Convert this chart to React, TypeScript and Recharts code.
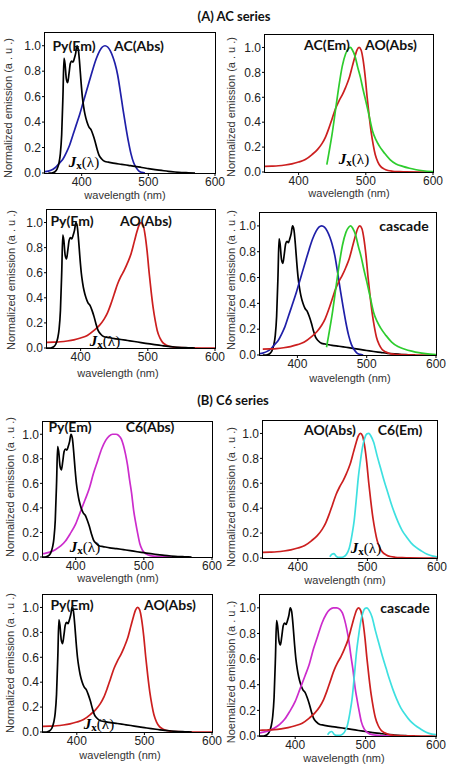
import React from 'react';
import { Line, LineChart, XAxis, YAxis } from 'recharts';

// Py emission
const pyWl = [350, 355, 360, 363, 366, 368, 370, 372, 373.5, 375, 377, 379, 381, 383, 385, 387, 389, 391, 393, 395, 397, 399, 401, 403, 405, 408, 411, 414, 417, 420, 423, 426, 430, 435, 440, 450, 460, 470, 480, 490, 500, 510, 520, 530, 540, 550, 560, 570];
const pyEm = [0, 0, 0.01, 0.03, 0.08, 0.15, 0.3, 0.62, 0.9, 0.86, 0.74, 0.71, 0.78, 0.86, 0.88, 0.87, 0.9, 0.94, 1.0, 0.97, 0.86, 0.72, 0.6, 0.52, 0.46, 0.4, 0.36, 0.34, 0.3, 0.25, 0.19, 0.14, 0.11, 0.09, 0.085, 0.075, 0.068, 0.06, 0.052, 0.043, 0.035, 0.027, 0.02, 0.013, 0.008, 0.004, 0.002, 0];

// AC absorption
const acAbsWl = [345, 350, 357, 362, 367, 372, 377, 382, 387, 392, 397, 402, 407, 412, 417, 422, 427, 431, 435, 439, 443, 447, 450, 454, 458, 462, 466, 470, 474, 478, 482, 486, 490, 495];
const acAbsVal = [0.01, 0.015, 0.03, 0.05, 0.08, 0.11, 0.16, 0.22, 0.3, 0.38, 0.46, 0.55, 0.64, 0.73, 0.82, 0.9, 0.96, 0.99, 1.0, 0.99, 0.96, 0.91, 0.86, 0.77, 0.64, 0.5, 0.37, 0.25, 0.15, 0.08, 0.04, 0.015, 0.005, 0];

// AC emission
const acEmWl = [442, 445, 450, 455, 460, 465, 470, 474, 477, 480, 484, 488, 492, 496, 500, 505, 510, 515, 520, 528, 536, 545, 555, 565, 575, 585, 600];
const acEmVal = [0.06, 0.15, 0.31, 0.5, 0.69, 0.85, 0.95, 0.99, 1.0, 0.98, 0.93, 0.84, 0.76, 0.66, 0.57, 0.45, 0.33, 0.26, 0.21, 0.15, 0.1, 0.065, 0.045, 0.03, 0.018, 0.01, 0.003];

// AO absorption
const aoAbsWl = [350, 360, 370, 380, 390, 400, 410, 420, 428, 435, 440, 445, 450, 455, 460, 465, 470, 475, 480, 484, 487, 490, 493, 496, 499, 502, 505, 508, 511, 514, 518, 522, 527, 533, 540, 550, 560, 580, 600];
const aoAbsVal = [0.045, 0.047, 0.05, 0.056, 0.065, 0.08, 0.1, 0.14, 0.18, 0.23, 0.28, 0.35, 0.43, 0.51, 0.57, 0.62, 0.68, 0.75, 0.85, 0.93, 0.98, 1.0, 0.98, 0.9, 0.77, 0.6, 0.45, 0.32, 0.22, 0.14, 0.08, 0.045, 0.025, 0.012, 0.006, 0.003, 0.001, 0, 0];

// C6 absorption
const c6AbsWl = [350, 355, 362, 370, 378, 385, 392, 400, 407, 414, 420, 426, 432, 438, 444, 449, 454, 459, 463, 467, 470, 473, 476, 479, 482, 485, 488, 491, 494, 498, 503, 510, 520, 535, 550];
const c6AbsVal = [0.025, 0.03, 0.04, 0.06, 0.09, 0.13, 0.19, 0.27, 0.37, 0.47, 0.56, 0.68, 0.78, 0.88, 0.95, 0.985, 1.0, 1.0, 0.99, 0.96, 0.91, 0.84, 0.75, 0.63, 0.52, 0.38, 0.28, 0.19, 0.11, 0.055, 0.025, 0.01, 0.004, 0.001, 0];

// C6 emission
const c6EmWl = [446, 449, 452, 455, 458, 462, 466, 470, 474, 478, 481, 484, 487, 490, 493, 496, 499, 502, 505, 509, 514, 519, 524, 529, 534, 539, 544, 550, 556, 563, 570, 578, 586, 594, 600];
const c6EmVal = [0.01, 0.03, 0.035, 0.015, 0.005, 0.005, 0.01, 0.03, 0.08, 0.19, 0.3, 0.47, 0.65, 0.78, 0.89, 0.96, 0.995, 1.0, 0.98, 0.93, 0.82, 0.72, 0.62, 0.53, 0.44, 0.36, 0.29, 0.22, 0.17, 0.12, 0.085, 0.055, 0.03, 0.015, 0.01];

const xTicks = [400, 500, 600];
const yTicks = [0, 0.2, 0.4, 0.6, 0.8, 1.0];

type Pt = { x: number; y: number };
const toPoints = (wl: number[], val: number[]): Pt[] => wl.map((x, i) => ({ x, y: val[i] }));

const SERIES: Record<string, { data: Pt[]; color: string }> = {
  py: { data: toPoints(pyWl, pyEm), color: '#000000' },
  acAbs: { data: toPoints(acAbsWl, acAbsVal), color: '#1f1fa8' },
  acEm: { data: toPoints(acEmWl, acEmVal), color: '#2ecc2e' },
  aoAbs: { data: toPoints(aoAbsWl, aoAbsVal), color: '#cc1f1f' },
  c6Abs: { data: toPoints(c6AbsWl, c6AbsVal), color: '#cc2ccc' },
  c6Em: { data: toPoints(c6EmWl, c6EmVal), color: '#3ee0e0' }
};

const SANS = '"Liberation Sans", Arial, sans-serif';
const BOLD = 'Lato, "Open Sans", sans-serif';
const SERIF = '"Liberation Serif", "DejaVu Serif", serif';

const YW = 34;
const MT = 4;
const MR = 14;
const XH = 20;

type Note = { text: string; at: [number, number]; jx?: boolean };

type Panel = {
  box: [number, number, number, number];
  xMin: number;
  series: string[];
  yLabel: string;
  yLabelAt: [number, number];
  xLabelAt: [number, number];
  notes: Note[];
};

const NORM = 'Normalized emission (a . u .)';

const PANELS: Panel[] = [
  {
    box: [45, 33, 215, 173], xMin: 345, series: ['acAbs', 'py'], yLabel: NORM, yLabelAt: [8, 108], xLabelAt: [125, 195],
    notes: [{ text: 'Py(Em)', at: [74, 46] }, { text: 'AC(Abs)', at: [139, 46] }, { text: '', at: [84, 162], jx: true }]
  },
  {
    box: [265, 35, 433, 172], xMin: 350, series: ['aoAbs', 'acEm'], yLabel: NORM, yLabelAt: [231, 107], xLabelAt: [349, 193],
    notes: [{ text: 'AC(Em)', at: [327, 45] }, { text: 'AO(Abs)', at: [391, 45] }, { text: '', at: [354, 159], jx: true }]
  },
  {
    box: [47, 210, 215, 348], xMin: 350, series: ['aoAbs', 'py'], yLabel: NORM, yLabelAt: [11, 280], xLabelAt: [118, 373],
    notes: [{ text: 'Py(Em)', at: [72, 221] }, { text: 'AO(Abs)', at: [146, 221] }, { text: '', at: [105, 341], jx: true }]
  },
  {
    box: [260, 213, 436, 355], xMin: 346, series: ['py', 'acAbs', 'aoAbs', 'acEm'], yLabel: NORM, yLabelAt: [231, 280], xLabelAt: [350, 378],
    notes: [{ text: 'cascade', at: [404, 226] }]
  },
  {
    box: [43, 422, 212, 557], xMin: 352, series: ['c6Abs', 'py'], yLabel: NORM, yLabelAt: [10, 487], xLabelAt: [118, 578],
    notes: [{ text: 'Py(Em)', at: [70, 427] }, { text: 'C6(Abs)', at: [150, 427] }, { text: '', at: [85, 547], jx: true }]
  },
  {
    box: [263, 421, 437, 558], xMin: 350, series: ['aoAbs', 'c6Em'], yLabel: NORM, yLabelAt: [231, 497], xLabelAt: [345, 580],
    notes: [{ text: 'AO(Abs)', at: [330, 430] }, { text: 'C6(Em)', at: [400, 430] }, { text: '', at: [366, 548], jx: true }]
  },
  {
    box: [43, 595, 212, 732], xMin: 350, series: ['aoAbs', 'py'], yLabel: NORM, yLabelAt: [10, 663], xLabelAt: [120, 755],
    notes: [{ text: 'Py(Em)', at: [72, 605] }, { text: 'AO(Abs)', at: [170, 605] }, { text: '', at: [99, 724], jx: true }]
  },
  {
    box: [260, 595, 436, 736], xMin: 350, series: ['py', 'c6Abs', 'aoAbs', 'c6Em'], yLabel: 'Noemalized emission (a . u .)', yLabelAt: [231, 672], xLabelAt: [344, 758],
    notes: [{ text: 'cascade', at: [405, 608] }]
  }
];

const centered = (x: number, y: number): React.CSSProperties => ({
  position: 'absolute',
  left: x,
  top: y,
  transform: 'translate(-50%, -50%)',
  whiteSpace: 'nowrap',
  lineHeight: 1
});

function Jx({ at }: { at: [number, number] }) {
  return (
    <div style={{ ...centered(at[0], at[1]), fontFamily: SERIF, fontSize: 15, color: '#000' }}>
      <b><i>J</i></b>
      <b style={{ fontSize: 11, position: 'relative', top: 2 }}>x</b>
      <span>(λ)</span>
    </div>
  );
}

function SpectrumPanel({ panel }: { panel: Panel }) {
  const [l, t, r, b] = panel.box;
  const w = r - l;
  const h = b - t;
  const tickStyle = { fontSize: 12, fill: '#222', fontFamily: SANS };

  return (
    <>
      <div style={{ position: 'absolute', left: l - YW, top: t - MT }}>
        <LineChart width={w + YW + MR} height={h + MT + XH} margin={{ top: MT, right: MR, left: 0, bottom: 0 }}>
          <XAxis
            type="number"
            dataKey="x"
            domain={[panel.xMin, 600]}
            ticks={xTicks}
            interval={0}
            allowDataOverflow
            height={XH}
            axisLine={false}
            tickSize={3}
            tickMargin={1}
            tickLine={{ stroke: '#000' }}
            tick={tickStyle}
          />
          <YAxis
            type="number"
            dataKey="y"
            domain={[0, 1.1]}
            ticks={yTicks}
            interval={0}
            allowDataOverflow
            width={YW}
            axisLine={false}
            tickSize={3}
            tickMargin={1}
            tickLine={{ stroke: '#000' }}
            tick={tickStyle}
            tickFormatter={(v: number) => v.toFixed(1)}
          />
          {panel.series.map(key => (
            <Line
              key={key}
              data={SERIES[key].data}
              dataKey="y"
              type="monotone"
              stroke={SERIES[key].color}
              strokeWidth={1.7}
              dot={false}
              activeDot={false}
              isAnimationActive={false}
            />
          ))}
        </LineChart>
        <div
          style={{
            position: 'absolute',
            left: YW - 0.75,
            top: MT - 0.75,
            width: w + 1.5,
            height: h + 1.5,
            border: '1.5px solid #000',
            boxSizing: 'border-box',
            pointerEvents: 'none'
          }}
        />
      </div>

      <div style={{ ...centered(panel.xLabelAt[0], panel.xLabelAt[1]), fontFamily: SANS, fontSize: 11, color: '#333' }}>
        wavelength (nm)
      </div>
      <div
        style={{
          ...centered(panel.yLabelAt[0], panel.yLabelAt[1]),
          transform: 'translate(-50%, -50%) rotate(-90deg)',
          fontFamily: SANS,
          fontSize: 11,
          color: '#333'
        }}
      >
        {panel.yLabel}
      </div>

      {panel.notes.map((note, i) =>
        note.jx ? (
          <Jx key={i} at={note.at} />
        ) : (
          <div key={i} style={{ ...centered(note.at[0], note.at[1]), fontFamily: BOLD, fontWeight: 700, fontSize: 14, color: '#111' }}>
            {note.text}
          </div>
        )
      )}
    </>
  );
}

export default function App() {
  return (
    <div style={{ position: 'absolute', left: 0, top: 0, width: 474, height: 771, background: '#fff', overflow: 'hidden' }}>
      <div style={{ ...centered(234, 16), fontFamily: BOLD, fontWeight: 700, fontSize: 13, color: '#111' }}>(A) AC series</div>
      <div style={{ ...centered(233, 400), fontFamily: BOLD, fontWeight: 700, fontSize: 13, color: '#111' }}>(B) C6 series</div>
      {PANELS.map((panel, i) => (
        <SpectrumPanel key={i} panel={panel} />
      ))}
    </div>
  );
}
